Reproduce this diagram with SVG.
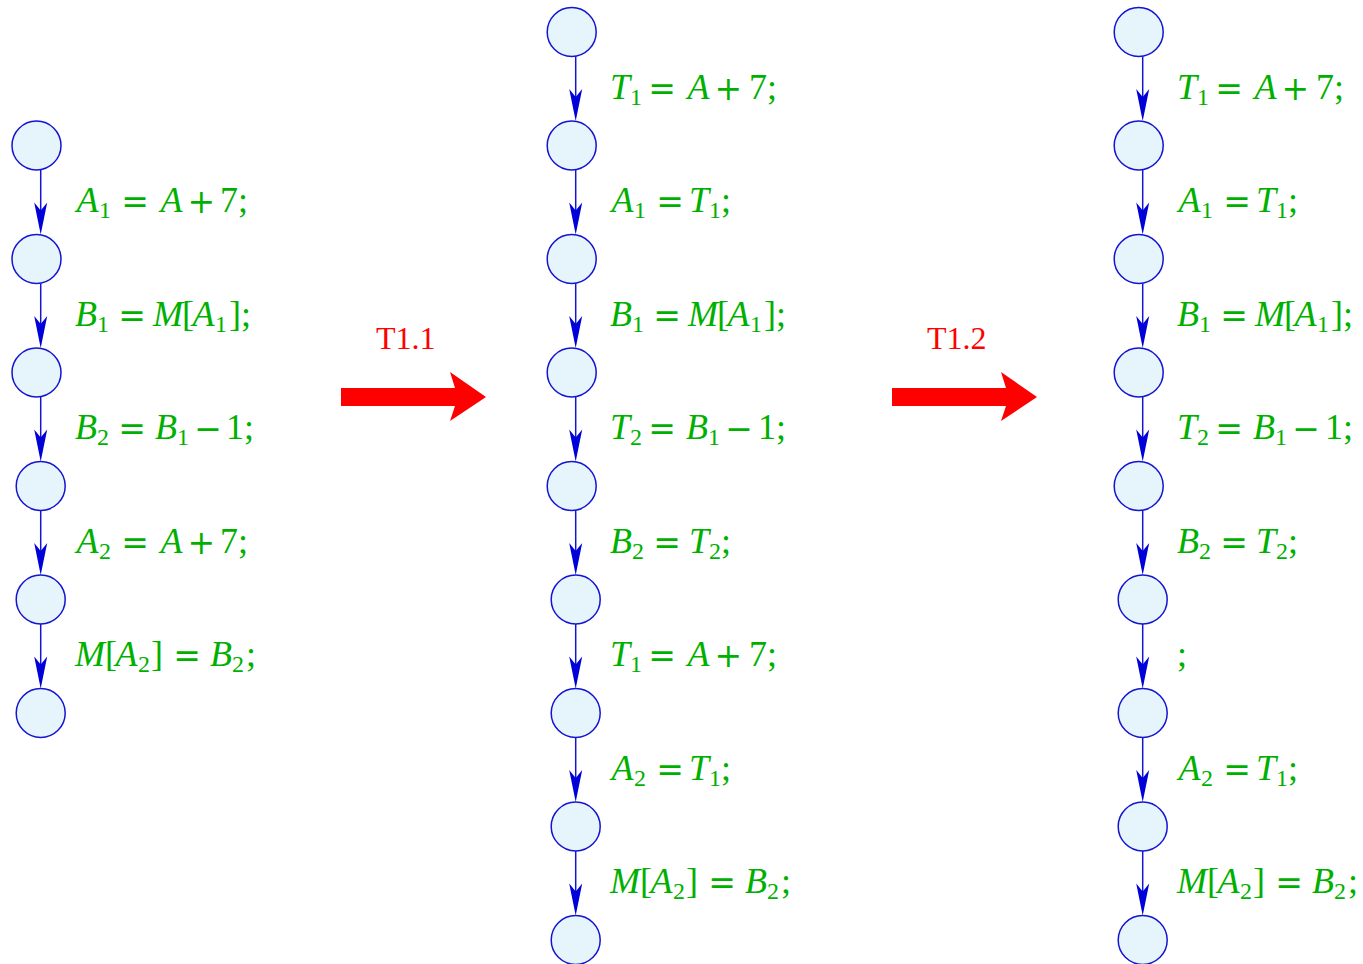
<svg xmlns="http://www.w3.org/2000/svg" width="1363" height="964" viewBox="0 0 1363 964">
<style>
.node circle{fill:#e6f4fc;stroke:#1414d2;stroke-width:1.5}
.edges line{stroke:#1414d2;stroke-width:1.5;marker-end:url(#ah)}
.m{font-family:"Liberation Serif",serif;font-size:36px;fill:#00b000}
.i{font-style:italic}
.s{font-size:24px;font-style:normal}
.o{font-family:"DejaVu Serif",serif;font-size:33px;font-style:normal}
.big{fill:#ff0000}
.tl{font-family:"Liberation Serif",serif;font-size:32px;fill:#ff0000}
</style>
<defs>
<marker id="ah" markerUnits="userSpaceOnUse" viewBox="-23 -7 34 14" refX="0" refY="0" markerWidth="34" markerHeight="14" orient="auto">
<path d="M10,0 L-22,-6.5 L-14,0 L-22,6.5 Z" fill="#0000d8"/>
</marker>
</defs>
<rect width="1363" height="964" fill="#ffffff"/>

<!-- left column nodes -->
<g id="L1" class="node"><circle cx="36.5" cy="145.5" r="24.5"/></g>
<g id="L2" class="node"><circle cx="36.5" cy="259" r="24.5"/></g>
<g id="L3" class="node"><circle cx="36.5" cy="372.5" r="24.5"/></g>
<g id="L4" class="node"><circle cx="40.7" cy="486" r="24.5"/></g>
<g id="L5" class="node"><circle cx="40.7" cy="599.5" r="24.5"/></g>
<g id="L6" class="node"><circle cx="40.7" cy="713" r="24.5"/></g>

<!-- middle column nodes -->
<g id="M0" class="node"><circle cx="571.7" cy="32" r="24.5"/></g>
<g id="M1" class="node"><circle cx="571.7" cy="145.5" r="24.5"/></g>
<g id="M2" class="node"><circle cx="571.7" cy="259" r="24.5"/></g>
<g id="M3" class="node"><circle cx="571.7" cy="372.5" r="24.5"/></g>
<g id="M4" class="node"><circle cx="571.7" cy="486" r="24.5"/></g>
<g id="M5" class="node"><circle cx="575.7" cy="599.5" r="24.5"/></g>
<g id="M6" class="node"><circle cx="575.7" cy="713" r="24.5"/></g>
<g id="M7" class="node"><circle cx="575.7" cy="826.5" r="24.5"/></g>
<g id="M8" class="node"><circle cx="575.7" cy="940" r="24.5"/></g>

<!-- right column nodes -->
<g id="R0" class="node"><circle cx="1138.7" cy="32" r="24.5"/></g>
<g id="R1" class="node"><circle cx="1138.7" cy="145.5" r="24.5"/></g>
<g id="R2" class="node"><circle cx="1138.7" cy="259" r="24.5"/></g>
<g id="R3" class="node"><circle cx="1138.7" cy="372.5" r="24.5"/></g>
<g id="R4" class="node"><circle cx="1138.7" cy="486" r="24.5"/></g>
<g id="R5" class="node"><circle cx="1142.7" cy="599.5" r="24.5"/></g>
<g id="R6" class="node"><circle cx="1142.7" cy="713" r="24.5"/></g>
<g id="R7" class="node"><circle cx="1142.7" cy="826.5" r="24.5"/></g>
<g id="R8" class="node"><circle cx="1142.7" cy="940" r="24.5"/></g>

<g id="connectors" class="edges">
<line x1="40.7" y1="170" x2="40.7" y2="224.5"/>
<line x1="40.7" y1="283.5" x2="40.7" y2="338"/>
<line x1="40.7" y1="397" x2="40.7" y2="451.5"/>
<line x1="40.7" y1="510.5" x2="40.7" y2="565"/>
<line x1="40.7" y1="624" x2="40.7" y2="678.5"/>

<line x1="575.7" y1="56.5" x2="575.7" y2="111"/>
<line x1="575.7" y1="170" x2="575.7" y2="224.5"/>
<line x1="575.7" y1="283.5" x2="575.7" y2="338"/>
<line x1="575.7" y1="397" x2="575.7" y2="451.5"/>
<line x1="575.7" y1="510.5" x2="575.7" y2="565"/>
<line x1="575.7" y1="624" x2="575.7" y2="678.5"/>
<line x1="575.7" y1="737.5" x2="575.7" y2="792"/>
<line x1="575.7" y1="851" x2="575.7" y2="905.5"/>

<line x1="1142.7" y1="56.5" x2="1142.7" y2="111"/>
<line x1="1142.7" y1="170" x2="1142.7" y2="224.5"/>
<line x1="1142.7" y1="283.5" x2="1142.7" y2="338"/>
<line x1="1142.7" y1="397" x2="1142.7" y2="451.5"/>
<line x1="1142.7" y1="510.5" x2="1142.7" y2="565"/>
<line x1="1142.7" y1="624" x2="1142.7" y2="678.5"/>
<line x1="1142.7" y1="737.5" x2="1142.7" y2="792"/>
<line x1="1142.7" y1="851" x2="1142.7" y2="905.5"/>
</g>

<g id="labels">
<!-- left -->
<g transform="translate(75,212.25)"><text class="m"><tspan class="i" x="1.5" y="0">A</tspan><tspan class="s" x="24" y="6">1</tspan><tspan class="o" x="46.2" y="1">=</tspan><tspan class="i" x="85.5" y="0">A</tspan><tspan class="o" x="112.5" y="1">+</tspan><tspan x="145" y="0">7;</tspan></text></g>
<g transform="translate(75,325.75)"><text class="m"><tspan class="i" x="0" y="0">B</tspan><tspan class="s" x="22" y="6">1</tspan><tspan class="o" x="43.2" y="1">=</tspan><tspan class="i" x="78" y="0">M</tspan><tspan x="107" y="0">[</tspan><tspan class="i" x="117.5" y="0">A</tspan><tspan class="s" x="140" y="6">1</tspan><tspan x="154" y="0">]</tspan><tspan x="166" y="0">;</tspan></text></g>
<g transform="translate(75,439.25)"><text class="m"><tspan class="i" x="0" y="0">B</tspan><tspan class="s" x="22" y="6">2</tspan><tspan class="o" x="43.2" y="1">=</tspan><tspan class="i" x="80" y="0">B</tspan><tspan class="s" x="102" y="6">1</tspan><tspan class="o" x="119.2" y="1">−</tspan><tspan x="151" y="0">1;</tspan></text></g>
<g transform="translate(75,552.75)"><text class="m"><tspan class="i" x="1.5" y="0">A</tspan><tspan class="s" x="24" y="6">2</tspan><tspan class="o" x="46.2" y="1">=</tspan><tspan class="i" x="85.5" y="0">A</tspan><tspan class="o" x="112.5" y="1">+</tspan><tspan x="145" y="0">7;</tspan></text></g>
<g transform="translate(75,666.25)"><text class="m"><tspan class="i" x="0" y="0">M</tspan><tspan x="30" y="0">[</tspan><tspan class="i" x="40.5" y="0">A</tspan><tspan class="s" x="63" y="6">2</tspan><tspan x="76" y="0">]</tspan><tspan class="o" x="98.2" y="1">=</tspan><tspan class="i" x="135" y="0">B</tspan><tspan class="s" x="157" y="6">2</tspan><tspan x="171" y="0">;</tspan></text></g>

<!-- middle -->
<g transform="translate(610,98.75)"><text class="m"><tspan class="i" x="0" y="0">T</tspan><tspan class="s" x="20" y="6">1</tspan><tspan class="o" x="38.2" y="1">=</tspan><tspan class="i" x="77.5" y="0">A</tspan><tspan class="o" x="104.5" y="1">+</tspan><tspan x="139" y="0">7;</tspan></text></g>
<g transform="translate(610,212.25)"><text class="m"><tspan class="i" x="1.5" y="0">A</tspan><tspan class="s" x="24" y="6">1</tspan><tspan class="o" x="46.2" y="1">=</tspan><tspan class="i" x="79" y="0">T</tspan><tspan class="s" x="99" y="6">1</tspan><tspan x="111" y="0">;</tspan></text></g>
<g transform="translate(610,325.75)"><text class="m"><tspan class="i" x="0" y="0">B</tspan><tspan class="s" x="22" y="6">1</tspan><tspan class="o" x="43.2" y="1">=</tspan><tspan class="i" x="78" y="0">M</tspan><tspan x="107" y="0">[</tspan><tspan class="i" x="117.5" y="0">A</tspan><tspan class="s" x="140" y="6">1</tspan><tspan x="154" y="0">]</tspan><tspan x="166" y="0">;</tspan></text></g>
<g transform="translate(610,439.25)"><text class="m"><tspan class="i" x="0" y="0">T</tspan><tspan class="s" x="20" y="6">2</tspan><tspan class="o" x="38.2" y="1">=</tspan><tspan class="i" x="76" y="0">B</tspan><tspan class="s" x="98" y="6">1</tspan><tspan class="o" x="115.2" y="1">−</tspan><tspan x="148" y="0">1;</tspan></text></g>
<g transform="translate(610,552.75)"><text class="m"><tspan class="i" x="0" y="0">B</tspan><tspan class="s" x="22" y="6">2</tspan><tspan class="o" x="43.2" y="1">=</tspan><tspan class="i" x="79" y="0">T</tspan><tspan class="s" x="99" y="6">2</tspan><tspan x="111" y="0">;</tspan></text></g>
<g transform="translate(610,666.25)"><text class="m"><tspan class="i" x="0" y="0">T</tspan><tspan class="s" x="20" y="6">1</tspan><tspan class="o" x="38.2" y="1">=</tspan><tspan class="i" x="77.5" y="0">A</tspan><tspan class="o" x="104.5" y="1">+</tspan><tspan x="139" y="0">7;</tspan></text></g>
<g transform="translate(610,779.75)"><text class="m"><tspan class="i" x="1.5" y="0">A</tspan><tspan class="s" x="24" y="6">2</tspan><tspan class="o" x="46.2" y="1">=</tspan><tspan class="i" x="79" y="0">T</tspan><tspan class="s" x="99" y="6">1</tspan><tspan x="111" y="0">;</tspan></text></g>
<g transform="translate(610,893.25)"><text class="m"><tspan class="i" x="0" y="0">M</tspan><tspan x="30" y="0">[</tspan><tspan class="i" x="40.5" y="0">A</tspan><tspan class="s" x="63" y="6">2</tspan><tspan x="76" y="0">]</tspan><tspan class="o" x="98.2" y="1">=</tspan><tspan class="i" x="135" y="0">B</tspan><tspan class="s" x="157" y="6">2</tspan><tspan x="171" y="0">;</tspan></text></g>

<!-- right -->
<g transform="translate(1177,98.75)"><text class="m"><tspan class="i" x="0" y="0">T</tspan><tspan class="s" x="20" y="6">1</tspan><tspan class="o" x="38.2" y="1">=</tspan><tspan class="i" x="77.5" y="0">A</tspan><tspan class="o" x="104.5" y="1">+</tspan><tspan x="139" y="0">7;</tspan></text></g>
<g transform="translate(1177,212.25)"><text class="m"><tspan class="i" x="1.5" y="0">A</tspan><tspan class="s" x="24" y="6">1</tspan><tspan class="o" x="46.2" y="1">=</tspan><tspan class="i" x="79" y="0">T</tspan><tspan class="s" x="99" y="6">1</tspan><tspan x="111" y="0">;</tspan></text></g>
<g transform="translate(1177,325.75)"><text class="m"><tspan class="i" x="0" y="0">B</tspan><tspan class="s" x="22" y="6">1</tspan><tspan class="o" x="43.2" y="1">=</tspan><tspan class="i" x="78" y="0">M</tspan><tspan x="107" y="0">[</tspan><tspan class="i" x="117.5" y="0">A</tspan><tspan class="s" x="140" y="6">1</tspan><tspan x="154" y="0">]</tspan><tspan x="166" y="0">;</tspan></text></g>
<g transform="translate(1177,439.25)"><text class="m"><tspan class="i" x="0" y="0">T</tspan><tspan class="s" x="20" y="6">2</tspan><tspan class="o" x="38.2" y="1">=</tspan><tspan class="i" x="76" y="0">B</tspan><tspan class="s" x="98" y="6">1</tspan><tspan class="o" x="115.2" y="1">−</tspan><tspan x="148" y="0">1;</tspan></text></g>
<g transform="translate(1177,552.75)"><text class="m"><tspan class="i" x="0" y="0">B</tspan><tspan class="s" x="22" y="6">2</tspan><tspan class="o" x="43.2" y="1">=</tspan><tspan class="i" x="79" y="0">T</tspan><tspan class="s" x="99" y="6">2</tspan><tspan x="111" y="0">;</tspan></text></g>
<g transform="translate(1177,666.25)"><text class="m"><tspan x="0" y="0">;</tspan></text></g>
<g transform="translate(1177,779.75)"><text class="m"><tspan class="i" x="1.5" y="0">A</tspan><tspan class="s" x="24" y="6">2</tspan><tspan class="o" x="46.2" y="1">=</tspan><tspan class="i" x="79" y="0">T</tspan><tspan class="s" x="99" y="6">1</tspan><tspan x="111" y="0">;</tspan></text></g>
<g transform="translate(1177,893.25)"><text class="m"><tspan class="i" x="0" y="0">M</tspan><tspan x="30" y="0">[</tspan><tspan class="i" x="40.5" y="0">A</tspan><tspan class="s" x="63" y="6">2</tspan><tspan x="76" y="0">]</tspan><tspan class="o" x="98.2" y="1">=</tspan><tspan class="i" x="135" y="0">B</tspan><tspan class="s" x="157" y="6">2</tspan><tspan x="171" y="0">;</tspan></text></g>
</g>

<g id="transform-T1.1">
<path class="big" d="M341,388 L455,388 L450,372 L486,397 L450,421 L455,406 L341,406 Z"/>
<text class="tl" x="376" y="349">T1.1</text>
</g>
<g id="transform-T1.2">
<path class="big" d="M892,388 L1006,388 L1001,372 L1037,397 L1001,421 L1006,406 L892,406 Z"/>
<text class="tl" x="927" y="349">T1.2</text>
</g>
</svg>
